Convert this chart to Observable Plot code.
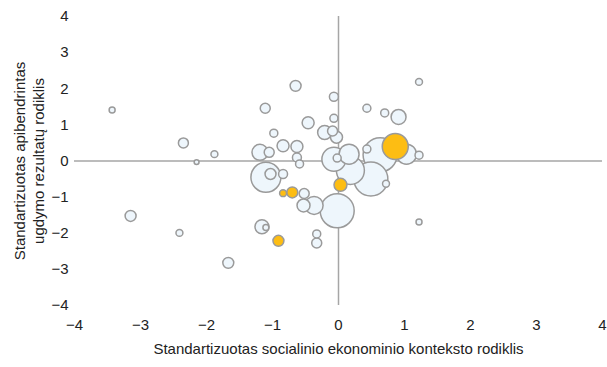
<!DOCTYPE html>
<html>
<head>
<meta charset="utf-8">
<script src="https://cdn.jsdelivr.net/npm/d3@7"></script>
<script src="https://cdn.jsdelivr.net/npm/@observablehq/plot@0.6"></script>
<style>
  body { margin: 0; background: #fff; }
  #chart svg { font-family: "Liberation Sans", Arial, sans-serif; }
</style>
</head>
<body>
<div id="chart"></div>
<script>
// Socio-economic context index (x), achievement index (y), bubble size (school size)
const lightX = [-3.43,-2.35,-2.15,-1.88,-3.15,-2.41,-1.67,-1.11,-0.65,-0.07,-0.07,-0.46,-0.98,-0.84,-0.63,-0.63,-0.59,-1.19,-1.05,-0.21,-0.09,-0.03,-1.10,-1.03,-0.84,-0.52,-0.53,-0.37,-0.02,-1.16,-1.10,-0.33,-0.33,1.22,1.22,0.43,0.70,0.91,1.22,1.03,0.63,0.49,0.72,0.43,-0.07,-0.02,0.16,0.18];
const lightY = [1.41,0.50,-0.03,0.19,-1.52,-1.99,-2.82,1.46,2.08,1.78,1.18,1.06,0.77,0.42,0.40,0.10,-0.08,0.24,0.24,0.79,0.83,0.66,-0.45,-0.36,-0.36,-0.90,-1.23,-1.23,-1.38,-1.82,-1.84,-2.02,-2.27,-1.69,2.19,1.46,1.33,1.22,0.16,0.19,0.17,-0.50,-0.63,0.33,0.05,0.08,0.19,-0.26];
const lightSize = [90,250,60,120,300,120,300,250,300,200,160,360,160,360,360,200,160,640,250,490,250,360,2250,300,200,250,420,810,2890,490,90,160,250,90,120,160,160,560,160,1000,2890,2890,120,160,1440,160,1000,1960];

const focusX = [0.86,0.03,-0.84,-0.70,-0.91];
const focusY = [0.40,-0.66,-0.89,-0.87,-2.21];
const focusSize = [1690,420,120,300,300];

const ticks = [-4,-3,-2,-1,0,1,2,3,4];
const xTitle = "Standartizuotas socialinio ekonominio konteksto rodiklis";
const yTitle = "Standartizuotas apibendrintas\nugdymo rezultatų rodiklis";

const light = lightX.map((x, i) => ({x, y: lightY[i], s: lightSize[i]}));
const focus = focusX.map((x, i) => ({x, y: focusY[i], s: focusSize[i]}));

const chart = Plot.plot({
  width: 607,
  height: 367,
  marginLeft: 74,
  marginRight: 5,
  marginTop: 16,
  marginBottom: 62,
  style: {fontSize: "15px", color: "#222", background: "#fff"},
  x: {domain: [-4, 4], ticks: ticks, tickSize: 0, tickPadding: 14, label: null},
  y: {domain: [-4, 4], ticks: ticks, tickSize: 0, tickPadding: 6, label: null},
  r: {type: "sqrt", domain: [0, 4000], range: [0, 20]},
  marks: [
    Plot.ruleX([0], {y1: -4, y2: 4, stroke: "#a6a6a6", strokeWidth: 1.5}),
    Plot.ruleY([0], {x1: -4, x2: 4, stroke: "#a6a6a6", strokeWidth: 1.5}),
    Plot.dot(light, {x: "x", y: "y", r: "s", fill: "#eef6fc", stroke: "#9a9a9a", strokeWidth: 1.5}),
    Plot.dot(focus, {x: "x", y: "y", r: "s", fill: "#fdbd13", stroke: "#9a9a9a", strokeWidth: 1.5}),
    Plot.text([xTitle], {frameAnchor: "bottom", dy: 48, fontSize: 15, fill: "#222"}),
    Plot.text([yTitle], {frameAnchor: "left", textAnchor: "middle", dx: -46, rotate: -90, fontSize: 15, lineHeight: 1.25, fill: "#222"})
  ]
});
document.getElementById("chart").appendChild(chart);
</script>
</body>
</html>
